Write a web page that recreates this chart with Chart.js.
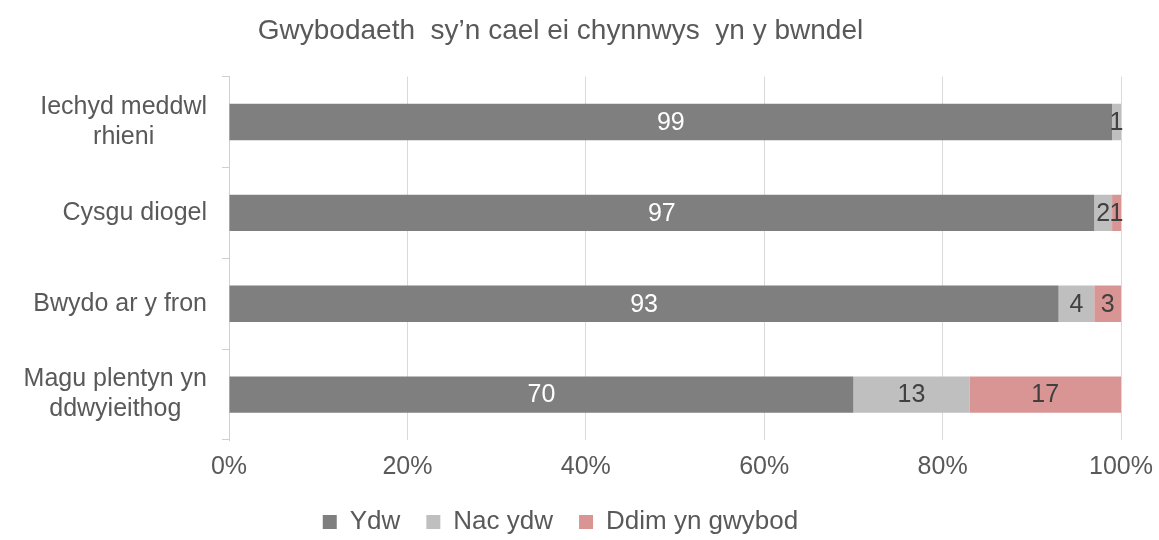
<!DOCTYPE html>
<html>
<head>
<meta charset="utf-8">
<script src="https://cdn.jsdelivr.net/npm/chart.js@4"></script>
<style>
	html, body { margin: 0; padding: 0; background: #ffffff; }
	#wrap { width: 1159px; height: 540px; position: relative; }
</style>
</head>
<body>
<div id="wrap"><canvas id="chart"></canvas></div>
<script>
(function () {
	'use strict';

	var categories = [['Iechyd meddwl', 'rhieni'], 'Cysgu diogel', 'Bwydo ar y fron', ['Magu plentyn yn', 'ddwyieithog']];
	var ydw = [99, 97, 93, 70];
	var nacYdw = [1, 2, 4, 13];
	var ddim = [0, 1, 3, 17];
	var seriesNames = ['Ydw', 'Nac ydw', 'Ddim yn gwybod'];

	var font = "'Liberation Sans', Arial, sans-serif";
	var textColor = '#595959';

	// value inside each segment
	var valueLabels = {
		id: 'valueLabels',
		afterDatasetsDraw: function (chart) {
			var ctx = chart.ctx;
			ctx.save();
			ctx.font = '25px ' + font;
			ctx.textAlign = 'center';
			ctx.textBaseline = 'middle';
			chart.data.datasets.forEach(function (ds, i) {
				var meta = chart.getDatasetMeta(i);
				meta.data.forEach(function (bar, j) {
					var v = ds.data[j];
					if (!v) {
						return;
					}
					ctx.fillStyle = i === 0 ? '#ffffff' : '#404040';
					ctx.fillText(String(v), (bar.x + bar.base) / 2, bar.y + 1);
				});
			});
			ctx.restore();
		},
	};

	// category labels: block right-aligned, lines centred to each other (like Excel)
	var categoryLabels = {
		id: 'categoryLabels',
		afterDraw: function (chart) {
			var ctx = chart.ctx;
			var scale = chart.scales.y;
			var right = scale.right - 22;
			var lineH = 30;
			ctx.save();
			ctx.font = '25px ' + font;
			ctx.fillStyle = textColor;
			ctx.textAlign = 'center';
			ctx.textBaseline = 'middle';
			categories.forEach(function (label, i) {
				var lines = Array.isArray(label) ? label : [label];
				var maxW = 0;
				lines.forEach(function (l) {
					maxW = Math.max(maxW, ctx.measureText(l).width);
				});
				var cx = right - maxW / 2;
				var y0 = scale.getPixelForTick(i) - (lines.length - 1) * lineH / 2;
				lines.forEach(function (l, k) {
					ctx.fillText(l, cx, y0 + k * lineH);
				});
			});
			ctx.restore();
		},
	};

	// keep the legend strip short so it sits low, as in the original
	var legendHeight = {
		id: 'legendHeight',
		beforeInit: function (chart) {
			var lg = chart.legend;
			if (!lg) {
				return;
			}
			var fit = lg.fit;
			lg.fit = function () {
				fit.call(this);
				this.height = 57;
			};
		},
	};

	function makeSet(label, data, color) {
		return {
			label: label,
			data: data,
			backgroundColor: color,
			borderWidth: 0,
			barPercentage: 0.4,
			categoryPercentage: 1,
		};
	}

	new Chart(document.getElementById('chart'), {
		type: 'bar',
		data: {
			labels: categories,
			datasets: [
				makeSet(seriesNames[0], ydw, '#7f7f7f'),
				makeSet(seriesNames[1], nacYdw, '#bfbfbf'),
				makeSet(seriesNames[2], ddim, '#d99594'),
			],
		},
		options: {
			indexAxis: 'y',
			responsive: true,
			maintainAspectRatio: false,
			animation: false,
			layout: {
				padding: { left: 0, right: 38, top: 0, bottom: 0 },
			},
			plugins: {
				title: {
					display: true,
					text: 'Gwybodaeth  sy\u2019n cael ei chynnwys  yn y bwndel',
					color: textColor,
					font: { family: font, size: 28, weight: 'normal' },
					padding: { top: 14, bottom: 29 },
				},
				legend: {
					position: 'bottom',
					labels: {
						color: textColor,
						font: { family: font, size: 26 },
						boxWidth: 14,
						boxHeight: 14,
						padding: 26,
					},
				},
				tooltip: { enabled: false },
			},
			scales: {
				x: {
					stacked: true,
					min: 0,
					max: 100,
					afterFit: function (scale) {
						scale.paddingLeft = 0;
						scale.paddingRight = 0;
						scale.height = 43;
					},
					ticks: {
						stepSize: 20,
						color: textColor,
						font: { family: font, size: 25 },
						padding: 12,
						callback: function (v) {
							return v + '%';
						},
					},
					grid: {
						color: '#d9d9d9',
						drawTicks: false,
					},
					border: { display: false },
				},
				y: {
					stacked: true,
					afterFit: function (scale) {
						scale.width = 229;
					},
					ticks: {
						display: false,
					},
					grid: {
						offset: true,
						drawOnChartArea: false,
						tickLength: 7,
						color: '#d0d0d0',
					},
					border: { display: true, color: '#d0d0d0' },
				},
			},
		},
		plugins: [valueLabels, categoryLabels, legendHeight],
	});
})();
</script>
</body>
</html>
